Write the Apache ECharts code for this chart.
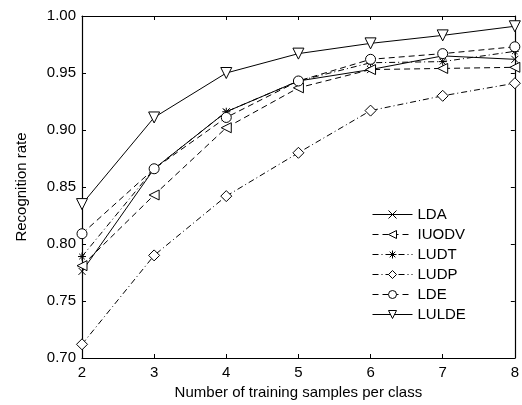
<!DOCTYPE html>
<html lang="en">
<head>
    <meta charset="UTF-8">
    <title>Recognition rate</title>
    <style>
        body{ margin: 0; background: #fff; }
        #main{ width: 522px; height: 405px; }
    </style>
</head>
<body>
<div id="main"></div>
<script src="https://cdn.jsdelivr.net/npm/echarts@6/dist/echarts.min.js"></script>
<script>
    const samples = [2, 3, 4, 5, 6, 7, 8];
    const yTicks = [0.70, 0.75, 0.80, 0.85, 0.90, 0.95, 1.00];
    const lda   = [0.776, 0.866, 0.916, 0.943, 0.953, 0.965, 0.962];
    const iuodv = [0.781, 0.843, 0.902, 0.937, 0.953, 0.954, 0.955];
    const ludt  = [0.789, 0.866, 0.916, 0.943, 0.959, 0.960, 0.969];
    const ludp  = [0.712, 0.790, 0.842, 0.880, 0.917, 0.930, 0.941];
    const lde   = [0.809, 0.866, 0.911, 0.943, 0.962, 0.967, 0.973];
    const lulde = [0.835, 0.911, 0.950, 0.967, 0.976, 0.983, 0.991];

    const myChart = echarts.init(document.getElementById('main'));

    const cross = 'path://M0,0L10,10M10,0L0,10';
    const star = 'path://M5,0L5,10M0,5L10,5M1.5,1.5L8.5,8.5M8.5,1.5L1.5,8.5';
    const dashed = [6, 4];
    const dashDot = [6, 3, 1, 3];
    const font = 'Liberation Sans';

    function line(name, values, symbol, dash, size, rotate){
        return {
            name: name,
            type: 'line',
            data: samples.map((x, i) => [x, values[i]]),
            symbol: symbol,
            symbolSize: size,
            symbolRotate: rotate || 0,
            showAllSymbol: true,
            lineStyle: { color: '#000', width: 1, type: dash },
            itemStyle: { color: '#fff', borderColor: '#000', borderWidth: 1 },
            emphasis: { disabled: true }
        };
    }

    const axisLine = { show: true, lineStyle: { color: '#000', width: 1.2 } };
    const tick = { show: true, inside: true, length: 4, lineStyle: { color: '#000' } };

    const option = {
        animation: false,
        textStyle: { fontFamily: font },
        grid: { left: 82, right: 5, top: 16, bottom: 46 },
        legend: {
            orient: 'vertical',
            left: 372,
            top: 207,
            padding: 0,
            itemWidth: 40,
            itemHeight: 10,
            itemGap: 5,
            lineStyle: { width: 1 },
            itemStyle: { borderWidth: 1 },
            textStyle: { fontFamily: font, fontSize: 15, color: '#000' },
            data: ['LDA', 'IUODV', 'LUDT', 'LUDP', 'LDE', 'LULDE']
        },
        xAxis: [{
            type: 'value', min: 2, max: 8, interval: 1,
            name: 'Number of training samples per class',
            nameLocation: 'middle', nameGap: 27,
            nameTextStyle: { fontFamily: font, fontSize: 15, color: '#000' },
            axisLine: axisLine, axisTick: tick,
            axisLabel: { color: '#000', fontSize: 15, fontFamily: font, margin: 7 },
            splitLine: { show: false }
        }, {
            type: 'value', min: 2, max: 8, interval: 1, position: 'top',
            axisLine: axisLine, axisTick: tick,
            axisLabel: { show: false }, splitLine: { show: false }
        }],
        yAxis: [{
            type: 'value', min: yTicks[0], max: yTicks[yTicks.length - 1], interval: 0.05,
            name: 'Recognition rate',
            nameLocation: 'middle', nameGap: 53,
            nameTextStyle: { fontFamily: font, fontSize: 15, color: '#000' },
            axisLine: axisLine, axisTick: tick,
            axisLabel: { color: '#000', fontSize: 15, fontFamily: font, margin: 6, formatter: v => v.toFixed(2) },
            splitLine: { show: false }
        }, {
            type: 'value', min: yTicks[0], max: yTicks[yTicks.length - 1], interval: 0.05, position: 'right',
            axisLine: axisLine, axisTick: tick,
            axisLabel: { show: false }, splitLine: { show: false }
        }],
        series: [
            line('LDA', lda, cross, 'solid', 7),
            line('IUODV', iuodv, 'triangle', dashed, 10, 90),
            line('LUDT', ludt, star, dashDot, 8),
            line('LUDP', ludp, 'diamond', dashDot, 11),
            line('LDE', lde, 'circle', dashed, 10),
            line('LULDE', lulde, 'triangle', 'solid', 11, 180)
        ]
    };

    myChart.setOption(option);
</script>
</body>
</html>
